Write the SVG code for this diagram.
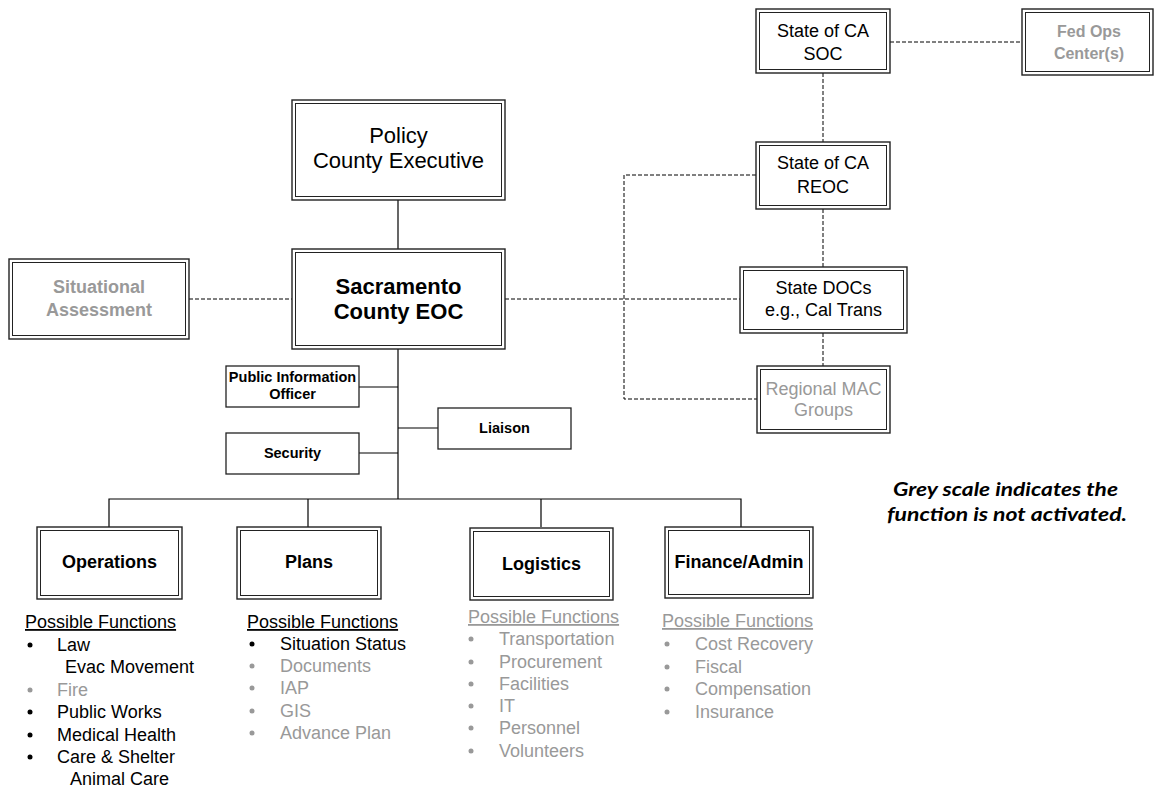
<svg xmlns="http://www.w3.org/2000/svg" width="1154" height="789" viewBox="0 0 1154 789">
<style>
text{font-family:"Liberation Sans",Arial,sans-serif;fill:#000}
.o{fill:#fff;stroke:#222;stroke-width:1.4}
.i{fill:none;stroke:#222;stroke-width:1}
.s{fill:#fff;stroke:#222;stroke-width:1.3}
.c{text-anchor:middle}
.b{font-weight:bold}
.g{fill:#999}
.t18{font-size:18px}
.t22{font-size:22px}
.t16{font-size:16px}
.t14{font-size:14.5px}
.sol{stroke:#000;stroke-width:1.2;fill:none}
.dash{stroke:#000;stroke-width:1;fill:none;stroke-dasharray:4 2}
.bk{fill:#000}
.gb{fill:#999}
.u{text-decoration:underline}
.note{font-family:Lato,"Open Sans",sans-serif;font-style:italic;font-weight:bold;font-size:19.5px}
</style>
<rect width="1154" height="789" fill="#fff"/>
<g id="connectors">
<line class="sol" x1="398" y1="200" x2="398" y2="249"/>
<line class="sol" x1="398" y1="349" x2="398" y2="499"/>
<line class="sol" x1="359" y1="387" x2="398" y2="387"/>
<line class="sol" x1="359" y1="453" x2="398" y2="453"/>
<line class="sol" x1="398" y1="428" x2="438" y2="428"/>
<polyline class="sol" points="109,527 109,499 741,499 741,527"/>
<line class="sol" x1="308" y1="499" x2="308" y2="527"/>
<line class="sol" x1="541" y1="499" x2="541" y2="527"/>
<line class="dash" x1="189" y1="299" x2="292" y2="299"/>
<line class="dash" x1="505" y1="299" x2="740" y2="299"/>
<polyline class="dash" points="756,175 624,175 624,399 757,399"/>
<line class="dash" x1="823" y1="73" x2="823" y2="142"/>
<line class="dash" x1="823" y1="209" x2="823" y2="267"/>
<line class="dash" x1="823" y1="333" x2="823" y2="366"/>
<line class="dash" x1="890" y1="42" x2="1022" y2="42"/>
</g>
<g id="policy">
<rect class="o" x="292" y="100" width="213" height="100"/>
<rect class="i" x="295.5" y="103.5" width="206" height="93"/>
<text class="c t22" x="398.5" y="143">Policy</text>
<text class="c t22" x="398.5" y="168">County Executive</text>
</g>
<g id="eoc">
<rect class="o" x="292" y="249" width="213" height="100"/>
<rect class="i" x="295.5" y="252.5" width="206" height="93"/>
<text class="c t22 b" x="398.5" y="294">Sacramento</text>
<text class="c t22 b" x="398.5" y="319">County EOC</text>
</g>
<g id="situational">
<rect class="o" x="9" y="259" width="180" height="80"/>
<rect class="i" x="12.5" y="262.5" width="173" height="73"/>
<text class="c t18 b g" x="99" y="293">Situational</text>
<text class="c t18 b g" x="99" y="316">Assessment</text>
</g>
<g id="pio">
<rect class="s" x="226" y="366" width="133" height="41"/>
<text class="c t14 b" x="292.5" y="382">Public Information</text>
<text class="c t14 b" x="292.5" y="399">Officer</text>
</g>
<g id="liaison">
<rect class="s" x="438" y="408" width="133" height="41"/>
<text class="c t14 b" x="504.5" y="433">Liaison</text>
</g>
<g id="security">
<rect class="s" x="226" y="433" width="133" height="41"/>
<text class="c t14 b" x="292.5" y="458">Security</text>
</g>
<g id="soc">
<rect class="o" x="756" y="9" width="134" height="64"/>
<rect class="i" x="759.5" y="12.5" width="127" height="57"/>
<text class="c t18" x="823" y="37">State of CA</text>
<text class="c t18" x="823" y="60">SOC</text>
</g>
<g id="fedops">
<rect class="o" x="1022" y="9" width="131" height="66"/>
<rect class="i" x="1025.5" y="12.5" width="124" height="59"/>
<text class="c t16 b g" x="1089" y="37">Fed Ops</text>
<text class="c t16 b g" x="1089" y="59">Center(s)</text>
</g>
<g id="reoc">
<rect class="o" x="756" y="142" width="134" height="67"/>
<rect class="i" x="759.5" y="145.5" width="127" height="60"/>
<text class="c t18" x="823" y="169">State of CA</text>
<text class="c t18" x="823" y="193">REOC</text>
</g>
<g id="statedocs">
<rect class="o" x="740" y="267" width="167" height="66"/>
<rect class="i" x="743.5" y="270.5" width="160" height="59"/>
<text class="c t18" x="823.5" y="294">State DOCs</text>
<text class="c t18" x="823.5" y="316">e.g., Cal Trans</text>
</g>
<g id="regionalmac">
<rect class="o" x="757" y="366" width="133" height="67"/>
<rect class="i" x="760.5" y="369.5" width="126" height="60"/>
<text class="c t18 g" x="823.5" y="395">Regional MAC</text>
<text class="c t18 g" x="823.5" y="416">Groups</text>
</g>
<g id="operations">
<rect class="o" x="37" y="527" width="145" height="72"/>
<rect class="i" x="40.5" y="530.5" width="138" height="65"/>
<text class="c t18 b" x="109.5" y="568">Operations</text>
</g>
<g id="plans">
<rect class="o" x="237" y="527" width="144" height="72"/>
<rect class="i" x="240.5" y="530.5" width="137" height="65"/>
<text class="c t18 b" x="309" y="568">Plans</text>
</g>
<g id="logistics">
<rect class="o" x="470" y="528" width="143" height="72"/>
<rect class="i" x="473.5" y="531.5" width="136" height="65"/>
<text class="c t18 b" x="541.5" y="570">Logistics</text>
</g>
<g id="finance">
<rect class="o" x="665" y="527" width="148" height="71"/>
<rect class="i" x="668.5" y="530.5" width="141" height="64"/>
<text class="c t18 b" x="739" y="568">Finance/Admin</text>
</g>
<g id="ops-functions">
<text class="t18 u" x="25" y="628">Possible Functions</text>
<circle class="bk" cx="30" cy="645" r="2.5"/><text class="t18" x="57" y="651">Law</text>
<text class="t18" x="65" y="673">Evac Movement</text>
<circle class="gb" cx="30" cy="690" r="2.5"/><text class="t18 g" x="57" y="696">Fire</text>
<circle class="bk" cx="30" cy="712" r="2.5"/><text class="t18" x="57" y="718">Public Works</text>
<circle class="bk" cx="30" cy="735" r="2.5"/><text class="t18" x="57" y="741">Medical Health</text>
<circle class="bk" cx="30" cy="757" r="2.5"/><text class="t18" x="57" y="763">Care &amp; Shelter</text>
<text class="t18" x="70" y="785">Animal Care</text>
</g>
<g id="plans-functions">
<text class="t18 u" x="247" y="628">Possible Functions</text>
<circle class="bk" cx="252" cy="644" r="2.5"/><text class="t18" x="280" y="650">Situation Status</text>
<circle class="gb" cx="252" cy="666" r="2.5"/><text class="t18 g" x="280" y="672">Documents</text>
<circle class="gb" cx="252" cy="688" r="2.5"/><text class="t18 g" x="280" y="694">IAP</text>
<circle class="gb" cx="252" cy="711" r="2.5"/><text class="t18 g" x="280" y="717">GIS</text>
<circle class="gb" cx="252" cy="733" r="2.5"/><text class="t18 g" x="280" y="739">Advance Plan</text>
</g>
<g id="logistics-functions">
<text class="t18 u g" x="468" y="623">Possible Functions</text>
<circle class="gb" cx="471" cy="639" r="2.5"/><text class="t18 g" x="499" y="645">Transportation</text>
<circle class="gb" cx="471" cy="662" r="2.5"/><text class="t18 g" x="499" y="668">Procurement</text>
<circle class="gb" cx="471" cy="684" r="2.5"/><text class="t18 g" x="499" y="690">Facilities</text>
<circle class="gb" cx="471" cy="706" r="2.5"/><text class="t18 g" x="499" y="712">IT</text>
<circle class="gb" cx="471" cy="728" r="2.5"/><text class="t18 g" x="499" y="734">Personnel</text>
<circle class="gb" cx="471" cy="751" r="2.5"/><text class="t18 g" x="499" y="757">Volunteers</text>
</g>
<g id="finance-functions">
<text class="t18 u g" x="662" y="627">Possible Functions</text>
<circle class="gb" cx="667" cy="644" r="2.5"/><text class="t18 g" x="695" y="650">Cost Recovery</text>
<circle class="gb" cx="667" cy="667" r="2.5"/><text class="t18 g" x="695" y="673">Fiscal</text>
<circle class="gb" cx="667" cy="689" r="2.5"/><text class="t18 g" x="695" y="695">Compensation</text>
<circle class="gb" cx="667" cy="712" r="2.5"/><text class="t18 g" x="695" y="718">Insurance</text>
</g>
<g id="note">
<text class="note" x="893" y="496" textLength="225" lengthAdjust="spacingAndGlyphs">Grey scale indicates the</text>
<text class="note" x="887" y="521" textLength="240" lengthAdjust="spacingAndGlyphs">function is not activated.</text>
</g>
</svg>
